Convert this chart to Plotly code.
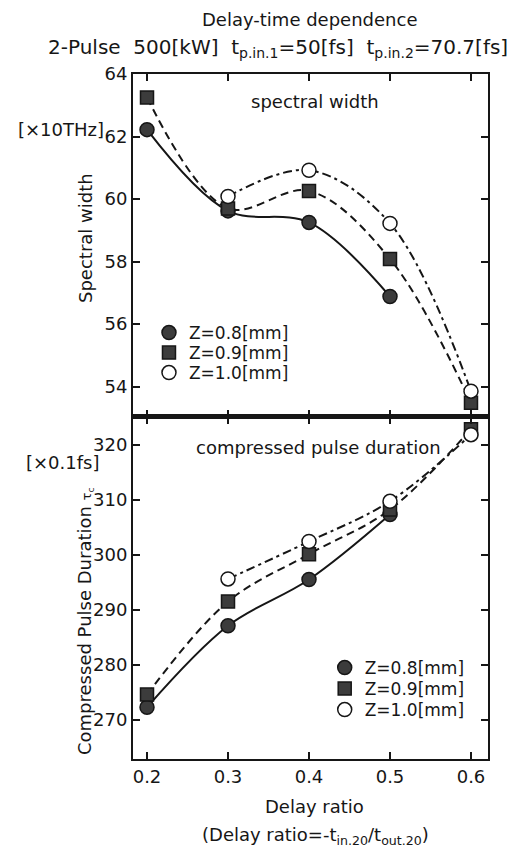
import plotly.graph_objects as go

# ---- data -------------------------------------------------------------
delay_ratio = [0.2, 0.3, 0.4, 0.5, 0.6]
tick_labels = ["0.2", "0.3", "0.4", "0.5", "0.6"]

# spectral width [x10 THz]
width_z08 = [62.22, 59.62, 59.25, 56.88, None]
width_z09 = [63.25, 59.70, 60.26, 58.08, 53.48]
width_z10 = [None, 60.08, 60.92, 59.22, 53.85]

# compressed pulse duration [x0.1 fs]
dur_z08 = [272.3, 287.1, 295.5, 307.3, None]
dur_z09 = [274.6, 291.5, 300.1, 308.2, 322.8]
dur_z10 = [None, 295.6, 302.4, 309.7, 321.8]

series_names = ["Z=0.8[mm]", "Z=0.9[mm]", "Z=1.0[mm]"]

# ---- styles -----------------------------------------------------------
FONT = "DejaVu Sans, Liberation Sans, Arial, sans-serif"
INK = "#161616"
FILL = "#3c3c3c"
dashes = ["solid", "8px,5px", "9px,4px,3px,4px"]
symbols = ["circle", "square", "circle"]
fills = [FILL, FILL, "white"]
msize = [14, 13, 14]

# page geometry of the plotting box (pixels)
BOX_L, BOX_R, BOX_T, BOX_B = 133, 488, 74, 759
W, H = 531, 848


def px_x(px):
    return (px - BOX_L) / (BOX_R - BOX_L)


def px_y(py):
    return (BOX_B - py) / (BOX_B - BOX_T)


fig = go.Figure()

# one legend box per entry so the rows can sit closely together
panels = [
    ("x2", "y2", [width_z08, width_z09, width_z10],
     ["legend", "legend2", "legend3"], 0.045, [333, 353, 373]),
    ("x", "y", [dur_z08, dur_z09, dur_z10],
     ["legend4", "legend5", "legend6"], 0.54, [668, 689, 710]),
]

legend_layout = {}
for xa, ya, ys, legs, lx, rows in panels:
    # smooth connecting curves
    for i, yv in enumerate(ys):
        fig.add_trace(go.Scatter(
            x=delay_ratio, y=yv, xaxis=xa, yaxis=ya, mode="lines",
            line=dict(color=INK, width=2, dash=dashes[i], shape="spline", smoothing=1.0),
            showlegend=False, hoverinfo="skip",
        ))
    # markers (drawn above the curves, open circles last)
    for i, yv in enumerate(ys):
        fig.add_trace(go.Scatter(
            x=delay_ratio, y=yv, xaxis=xa, yaxis=ya, mode="markers",
            name=series_names[i], legend=legs[i],
            marker=dict(symbol=symbols[i], size=msize[i], color=fills[i],
                        line=dict(color=INK, width=1.5)),
        ))
        legend_layout[legs[i]] = dict(
            x=lx, y=px_y(rows[i]), xanchor="left", yanchor="middle",
            bgcolor="rgba(0,0,0,0)", borderwidth=0,
            font=dict(family=FONT, size=17, color=INK), itemwidth=30,
        )

axis_common = dict(
    showline=True, linewidth=2, linecolor=INK, mirror="ticks",
    ticks="inside", ticklen=7, tickwidth=1.5, tickcolor=INK,
    showgrid=False, zeroline=False,
    tickfont=dict(family=FONT, size=18, color=INK),
)

fig.update_layout(
    width=W, height=H,
    margin=dict(l=BOX_L, r=W - BOX_R, t=BOX_T, b=H - BOX_B),
    paper_bgcolor="white", plot_bgcolor="white",
    font=dict(family=FONT, size=18, color=INK),
    xaxis=dict(domain=[0, 1], anchor="y", range=[0.1827, 0.621],
               tickvals=delay_ratio, ticktext=tick_labels, **axis_common),
    yaxis=dict(domain=[0, 0.5], anchor="x", range=[262.9, 325.1],
               tickvals=[270, 280, 290, 300, 310, 320], **axis_common),
    xaxis2=dict(domain=[0, 1], anchor="y2", matches="x", range=[0.1827, 0.621],
                tickvals=delay_ratio, showticklabels=False, **axis_common),
    yaxis2=dict(domain=[0.5, 1], anchor="x2", range=[53.04, 64],
                tickvals=[54, 56, 58, 60, 62, 64], **axis_common),
    showlegend=True,
    **legend_layout,
)

# heavy rule separating the two panels
fig.add_shape(type="line", xref="paper", yref="paper", x0=0, x1=1, y0=0.5, y1=0.5,
              line=dict(color=INK, width=5))

nb = "\u00a0"
annotations = [
    dict(text="Delay-time dependence", x=309, y=20, size=18),
    dict(text=f"2-Pulse{nb}{nb}500[kW]{nb}{nb}t<sub>p.in.1</sub>=50[fs]{nb}{nb}t<sub>p.in.2</sub>=70.7[fs]",
         x=278, y=48, size=20),
    dict(text="spectral width", x=315, y=102, size=18),
    dict(text="compressed pulse duration", x=318, y=447, size=18),
    dict(text="Delay ratio", x=314, y=806, size=18),
    dict(text="(Delay ratio=-t<sub>in.20</sub>/t<sub>out.20</sub>)", x=315, y=836, size=18),
]
for a in annotations:
    fig.add_annotation(text=a["text"], x=px_x(a["x"]), y=px_y(a["y"]), xref="paper", yref="paper",
                       showarrow=False, xanchor="center", yanchor="middle",
                       font=dict(family=FONT, size=a["size"], color=INK))

# unit labels and rotated axis titles
fig.add_annotation(text="[×10THz]", x=px_x(106), y=px_y(129), xref="paper", yref="paper",
                   showarrow=False, xanchor="right", yanchor="middle",
                   font=dict(family=FONT, size=18, color=INK))
fig.add_annotation(text="[×0.1fs]", x=px_x(101), y=px_y(462), xref="paper", yref="paper",
                   showarrow=False, xanchor="right", yanchor="middle",
                   font=dict(family=FONT, size=18, color=INK))
fig.add_annotation(text="Spectral width", x=px_x(85), y=px_y(238), xref="paper", yref="paper",
                   showarrow=False, textangle=-90, xanchor="center", yanchor="middle",
                   font=dict(family=FONT, size=18, color=INK))
fig.add_annotation(text="Compressed Pulse Duration <span style='font-size:13px'>τ<sub>c</sub></span>",
                   x=px_x(85), y=px_y(622), xref="paper", yref="paper",
                   showarrow=False, textangle=-90, xanchor="center", yanchor="middle",
                   font=dict(family=FONT, size=18, color=INK))

fig.write_html("out.html")
